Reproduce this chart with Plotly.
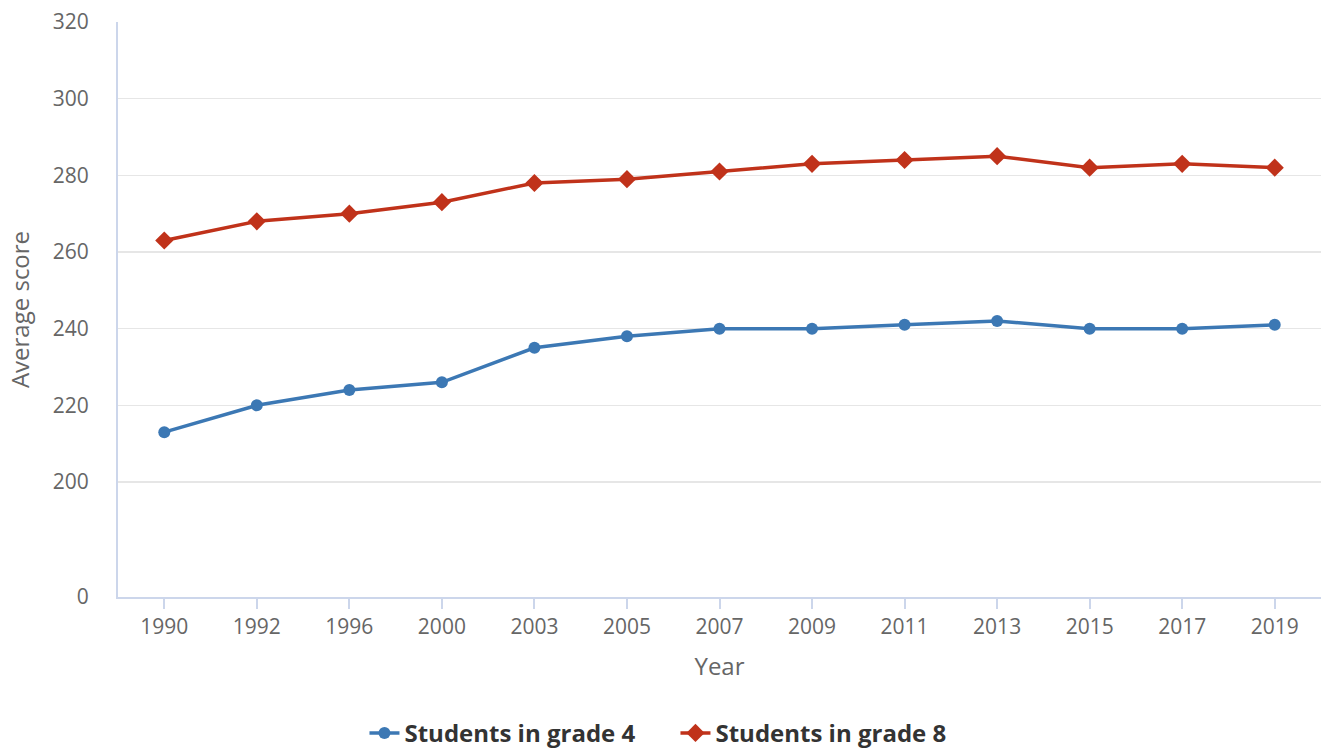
import plotly.graph_objects as go

years = ["1990", "1992", "1996", "2000", "2003", "2005", "2007", "2009", "2011", "2013", "2015", "2017", "2019"]
grade4 = [213, 220, 224, 226, 235, 238, 240, 240, 241, 242, 240, 240, 241]
grade8 = [263, 268, 270, 273, 278, 279, 281, 283, 284, 285, 282, 283, 282]
# broken axis: the "0" tick sits 30 units below 200
y_tickvals = [170, 200, 220, 240, 260, 280, 300, 320]
y_ticktext = ["0", "200", "220", "240", "260", "280", "300", "320"]

BLUE = "#3c78b4"
RED = "#c0321a"
FONT = "Open Sans"

fig = go.Figure()
fig.add_trace(go.Scatter(
    x=years, y=grade4, name="Students in grade 4", mode="lines+markers",
    line=dict(color=BLUE, width=3.5), marker=dict(symbol="circle", size=12, color=BLUE),
))
fig.add_trace(go.Scatter(
    x=years, y=grade8, name="Students in grade 8", mode="lines+markers",
    line=dict(color=RED, width=3.5), marker=dict(symbol="diamond", size=14, color=RED),
))

fig.update_layout(
    width=1323, height=751,
    margin=dict(l=118, r=2, t=22, b=154, autoexpand=False),
    paper_bgcolor="white", plot_bgcolor="white",
    font=dict(family=FONT, color="#666666", size=21),
    showlegend=True,
    legend=dict(
        orientation="h", x=0.4634, xanchor="center", y=-0.198, yanchor="top",
        yref="paper",
        font=dict(family=FONT, size=24, color="#333333", weight="bold"),
        itemwidth=30, entrywidth=266, tracegroupgap=0,
    ),
    hovermode=False,
)
fig.update_xaxes(
    type="category", range=[-0.5, 12.5], automargin=False,
    showline=True, linecolor="#ccd6eb", linewidth=2,
    ticks="outside", ticklen=10, tickcolor="#ccd6eb", tickwidth=2,
    showgrid=False, zeroline=False,
    tickfont=dict(family=FONT, size=21, color="#666666"),
    title=dict(text="Year", font=dict(family=FONT, size=24, color="#666666"), standoff=19),
)
fig.update_yaxes(
    range=[170, 320], tickvals=y_tickvals, ticktext=y_ticktext, automargin=False,
    showline=True, linecolor="#ccd6eb", linewidth=2,
    showgrid=True, gridcolor="#e6e6e6", gridwidth=1.5,
    zeroline=False, ticks="", ticklabelstandoff=23,
    tickfont=dict(family=FONT, size=21, color="#666666"),
    title=dict(text="Average score", font=dict(family=FONT, size=24, color="#666666"), standoff=16),
)

fig.write_html(
    "out.html",
    config={"displayModeBar": False, "staticPlot": True},
    post_script=(
        "document.body.style.margin='0';"
        "document.body.style.overflow='hidden';"
        "document.documentElement.style.overflow='hidden';"
    ),
)
